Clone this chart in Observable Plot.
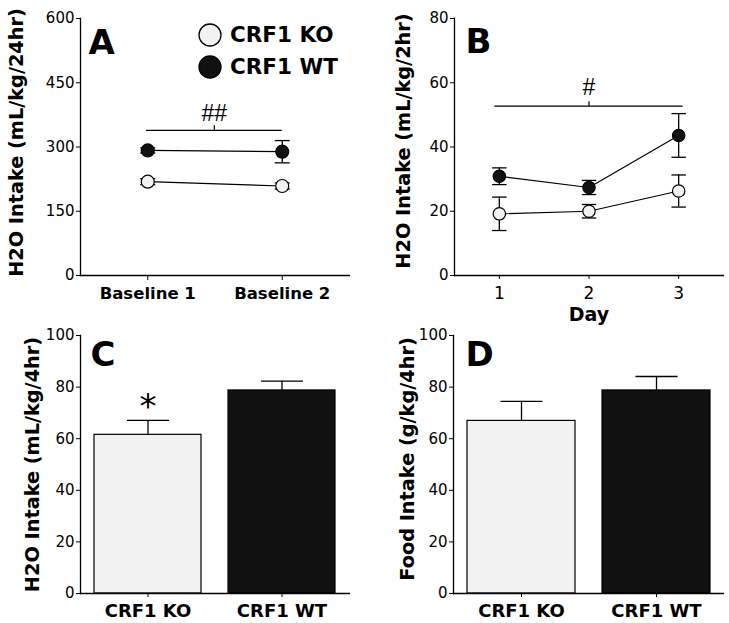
<!DOCTYPE html>
<html>
<head>
<meta charset="utf-8">
<script src="https://cdn.jsdelivr.net/npm/d3@7"></script>
<script src="https://cdn.jsdelivr.net/npm/@observablehq/plot@0.6"></script>
<style>
  body { margin: 0; background: #fff; }
  #root { position: relative; width: 729px; height: 623px; overflow: hidden; font-family: "DejaVu Sans", sans-serif; }
  .panel { position: absolute; }
  .panel svg { max-width: none !important; }
  .legend { position: absolute; left: 198px; top: 19px; }
  .legend .row { display: flex; align-items: center; height: 31.7px; }
  .legend span { font-family: "DejaVu Sans", sans-serif; font-weight: bold; font-size: 21.5px; margin-left: 8px; color: #000; }
</style>
</head>
<body>
<div id="root"></div>
<script>
// ---------- data ----------
const groups = ["CRF1 KO", "CRF1 WT"];
const groupFills = ["#f2f2f2", "#111111"];

// Panel A: 24 hr baseline water intake
const baselines = ["Baseline 1", "Baseline 2"];
const koA = [219, 209];
const koAErr = [7, 7];
const wtA = [292, 289];
const wtAErr = [6, 26];
const yTicksA = [0, 150, 300, 450, 600];
const sigA = [{x1: 0.99, x2: 2.0, y: 339, label: "##"}];

// Panel B: 2 hr water intake by day
const days = [1, 2, 3];
const koB = [19.2, 20.0, 26.3];
const koBErr = [5.2, 2.1, 5.0];
const wtB = [30.9, 27.4, 43.6];
const wtBErr = [2.6, 2.2, 6.8];
const yTicksB = [0, 20, 40, 60, 80];
const sigB = [{x1: 0.95, x2: 3.05, y: 52.7, label: "#"}];

// Panel C: 4 hr water intake
const waterC = [61.5, 78.7];
const waterCErr = [5.6, 3.6];
const sigC = [{group: "CRF1 KO", label: "*"}];

// Panel D: 4 hr food intake
const foodD = [66.9, 78.7];
const foodDErr = [7.6, 5.4];

const yTicksCD = [0, 20, 40, 60, 80, 100];

// ---------- helpers ----------
const hCap = {draw(ctx, size) { const r = Math.sqrt(size / Math.PI); ctx.moveTo(-r, 0); ctx.lineTo(r, 0); }};
const vTick = {draw(ctx, size) { const r = Math.sqrt(size / Math.PI); ctx.moveTo(0, 0); ctx.lineTo(0, -r); }};
const colorScale = {domain: groups, range: groupFills};
const baseStyle = {fontFamily: "DejaVu Sans", background: "transparent", overflow: "visible", color: "black"};

function place(svg, left, top) {
  const div = document.createElement("div");
  div.className = "panel";
  div.style.left = left + "px";
  div.style.top = top + "px";
  div.style.width = svg.getAttribute("width") + "px";
  div.appendChild(svg);
  document.getElementById("root").appendChild(div);
}

function axesFrame() {
  return [
    Plot.frame({anchor: "left", strokeWidth: 1.3}),
    Plot.frame({anchor: "bottom", strokeWidth: 1.3})
  ];
}

function yLabel(text, dx, dy) {
  return Plot.text([text], {text: d => d, frameAnchor: "left", rotate: -90, textAnchor: "middle",
    lineAnchor: "bottom", dx, dy, fontSize: 19.3, fontWeight: "bold"});
}

function letter(text, dx, dy) {
  return Plot.text([text], {text: d => d, frameAnchor: "top-left", textAnchor: "start",
    lineAnchor: "bottom", dx, dy, fontSize: 34, fontWeight: "bold"});
}

function lineMarks(rows, capR, dotR) {
  return [
    Plot.line(rows, {x: "x", y: "y", z: "group", stroke: "black", strokeWidth: 1.2}),
    Plot.ruleX(rows, {x: "x", y1: d => d.y - d.err, y2: d => d.y + d.err, stroke: "black", strokeWidth: 1.3}),
    Plot.dot(rows, {x: "x", y: d => d.y + d.err, symbol: hCap, r: capR, fill: "none", stroke: "black", strokeWidth: 1.3}),
    Plot.dot(rows, {x: "x", y: d => d.y - d.err, symbol: hCap, r: capR, fill: "none", stroke: "black", strokeWidth: 1.3}),
    Plot.dot(rows, {x: "x", y: "y", r: dotR, fill: "group", stroke: "black", strokeWidth: 1.2})
  ];
}

function sigMarks(sig, dyText) {
  const mid = d => (d.x1 + d.x2) / 2;
  return [
    Plot.ruleY(sig, {y: "y", x1: "x1", x2: "x2", stroke: "black", strokeWidth: 1.2}),
    Plot.dot(sig, {x: mid, y: "y", symbol: vTick, r: 5, fill: "none", stroke: "black", strokeWidth: 1.2}),
    Plot.text(sig, {x: mid, y: "y", text: "label", lineAnchor: "bottom", dy: dyText, fontSize: 23,
      fontFamily: "Liberation Sans"})
  ];
}

// ---------- Panel A ----------
const rowsA = groups.flatMap((g, gi) => baselines.map((b, i) => ({
  group: g, x: i + 1, y: [koA, wtA][gi][i], err: [koAErr, wtAErr][gi][i]
})));

place(Plot.plot({
  width: 365, height: 310,
  marginLeft: 80, marginTop: 18, marginRight: 16, marginBottom: 35,
  style: baseStyle,
  x: {type: "linear", domain: [0.5, 2.5]},
  y: {domain: [0, 600]},
  color: colorScale,
  marks: [
    ...axesFrame(),
    Plot.axisY({ticks: yTicksA, tickSize: 4, tickPadding: 2, fontSize: 15, label: null}),
    Plot.axisX({ticks: [1, 2], tickFormat: d => baselines[d - 1], tickSize: 5, tickPadding: 7,
      fontSize: 16.5, fontWeight: "bold", label: null}),
    yLabel("H2O Intake (mL/kg/24hr)", -57.5, -4.5),
    letter("A", 8, 35),
    ...sigMarks(sigA, -9.5),
    ...lineMarks(rowsA, 7.5, 6.5)
  ]
}), 0, 0);

// ---------- Panel B ----------
const rowsB = groups.flatMap((g, gi) => days.map((d, i) => ({
  group: g, x: d, y: [koB, wtB][gi][i], err: [koBErr, wtBErr][gi][i]
})));

place(Plot.plot({
  width: 364, height: 330,
  marginLeft: 89, marginTop: 18, marginRight: 6, marginBottom: 55,
  style: baseStyle,
  x: {type: "linear", domain: [0.5, 3.5]},
  y: {domain: [0, 80]},
  color: colorScale,
  marks: [
    ...axesFrame(),
    Plot.axisY({ticks: yTicksB, tickSize: 4, tickPadding: 2, fontSize: 15, label: null}),
    Plot.axisX({ticks: days, tickFormat: d => String(d), tickSize: 4, tickPadding: 7, fontSize: 17, label: null}),
    Plot.text(["Day"], {text: d => d, frameAnchor: "bottom", lineAnchor: "bottom", dy: 45,
      fontSize: 19, fontWeight: "bold"}),
    yLabel("H2O Intake (mL/kg/2hr)", -45, -6),
    letter("B", 11, 34),
    ...sigMarks(sigB, -11),
    ...lineMarks(rowsB, 7.2, 6.2)
  ]
}), 365, 0);

// ---------- Bar panels ----------
function barPanel(opts) {
  const {values, errs, label, labelDx, labelDy, tag, tagDx, tagDy, width, marginLeft, marginRight, extra} = opts;
  const rows = groups.map((g, i) => ({group: g, value: values[i], err: errs[i]}));
  return Plot.plot({
    width, height: 293,
    marginLeft, marginTop: 5, marginRight, marginBottom: 30,
    style: baseStyle,
    x: {type: "band", domain: groups, paddingInner: 0.2, paddingOuter: 0.1},
    y: {domain: [0, 100]},
    color: colorScale,
    marks: [
      Plot.barY(rows, {x: "group", y: "value", fill: "group", stroke: "black", strokeWidth: 1.2}),
      Plot.ruleX(rows, {x: "group", y1: "value", y2: d => d.value + d.err, stroke: "black", strokeWidth: 1.3}),
      Plot.dot(rows, {x: "group", y: d => d.value + d.err, symbol: hCap, r: 21, fill: "none",
        stroke: "black", strokeWidth: 1.3}),
      ...axesFrame(),
      Plot.axisY({ticks: yTicksCD, tickSize: 4, tickPadding: 2, fontSize: 15, label: null}),
      Plot.axisX({tickSize: 4, tickPadding: 6.5, fontSize: 18, fontWeight: "bold", label: null}),
      yLabel(label, labelDx, labelDy),
      letter(tag, tagDx, tagDy),
      ...(extra ? extra(rows) : [])
    ]
  });
}

place(barPanel({
  values: waterC, errs: waterCErr, label: "H2O Intake (mL/kg/4hr)", labelDx: -42, labelDy: 0,
  tag: "C", tagDx: 10, tagDy: 30, width: 365, marginLeft: 80, marginRight: 16,
  extra: rows => [
    Plot.text(sigC, {x: "group", y: d => { const r = rows.find(q => q.group === d.group); return r.value + r.err; },
      text: "label", lineAnchor: "bottom", dy: -2, fontSize: 34})
  ]
}), 0, 330);

place(barPanel({
  values: foodD, errs: foodDErr, label: "Food Intake (g/kg/4hr)", labelDx: -40, labelDy: -5.5,
  tag: "D", tagDx: 12, tagDy: 30, width: 364, marginLeft: 88, marginRight: 6, extra: null
}), 365, 330);

// ---------- Legend (panel A) ----------
const legend = d3.select("#root").append("div").attr("class", "legend");
groups.forEach((g, i) => {
  const row = legend.append("div").attr("class", "row");
  const s = row.append("svg").attr("width", 24).attr("height", 24);
  s.append("circle").attr("cx", 12).attr("cy", 12).attr("r", 11)
    .attr("fill", groupFills[i]).attr("stroke", "black").attr("stroke-width", 1.3);
  row.append("span").text(g);
});
</script>
</body>
</html>
